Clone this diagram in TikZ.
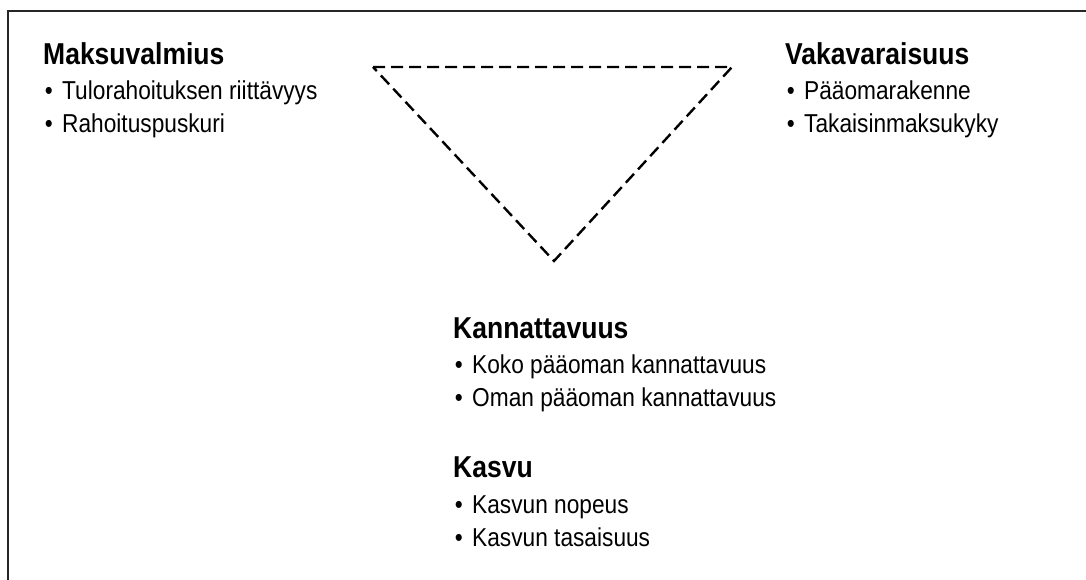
\documentclass[tikz,border=0pt]{standalone}
\usepackage{fontspec}
\setmainfont{Liberation Sans}
\newcommand{\hdtext}[1]{\scalebox{1}[1.14]{\fontsize{26.5}{30}\selectfont\bfseries #1}}
\newcommand{\itemtext}[1]{\scalebox{1}[1.14]{\fontsize{22.7}{26}\selectfont\llap{\textbullet\hspace{9.5pt}}#1}}
\begin{document}
\begin{tikzpicture}[x=1pt,y=-1pt,
  heading/.style={anchor=base west,inner sep=0pt,font=\bfseries},
  entry/.style={anchor=base west,inner sep=0pt},
  frameline/.style={line width=2pt,draw=black!85},
  triline/.style={line width=2.4pt,dash pattern=on 12pt off 6pt}]
\useasboundingbox (0,0) rectangle (1086,580);

% open frame along the top and left edges
\draw[frameline] (1086,11) -- (8,11) -- (8,580);

% dashed triangle between the three groups
\coordinate (tl) at (373,67);
\coordinate (tr) at (732,67);
\coordinate (bt) at (554,261);
\draw[triline] (tl) -- (tr) -- (bt) -- cycle;

% Maksuvalmius
\node[heading] (mv) at (43,65) {\hdtext{Maksuvalmius}};
\node[entry] (mv1) at (62,100) {\itemtext{Tulorahoituksen riittävyys}};
\node[entry] (mv2) at (62,133) {\itemtext{Rahoituspuskuri}};

% Vakavaraisuus
\node[heading] (vv) at (785,65) {\hdtext{Vakavaraisuus}};
\node[entry] (vv1) at (804,100) {\itemtext{Pääomarakenne}};
\node[entry] (vv2) at (804,133) {\itemtext{Takaisinmaksukyky}};

% Kannattavuus
\node[heading] (ka) at (453,338) {\hdtext{Kannattavuus}};
\node[entry] (ka1) at (472,373) {\itemtext{Koko pääoman kannattavuus}};
\node[entry] (ka2) at (472,406) {\itemtext{Oman pääoman kannattavuus}};

% Kasvu
\node[heading] (ks) at (453,477) {\hdtext{Kasvu}};
\node[entry] (ks1) at (472,513) {\itemtext{Kasvun nopeus}};
\node[entry] (ks2) at (472,546) {\itemtext{Kasvun tasaisuus}};
\end{tikzpicture}
\end{document}
